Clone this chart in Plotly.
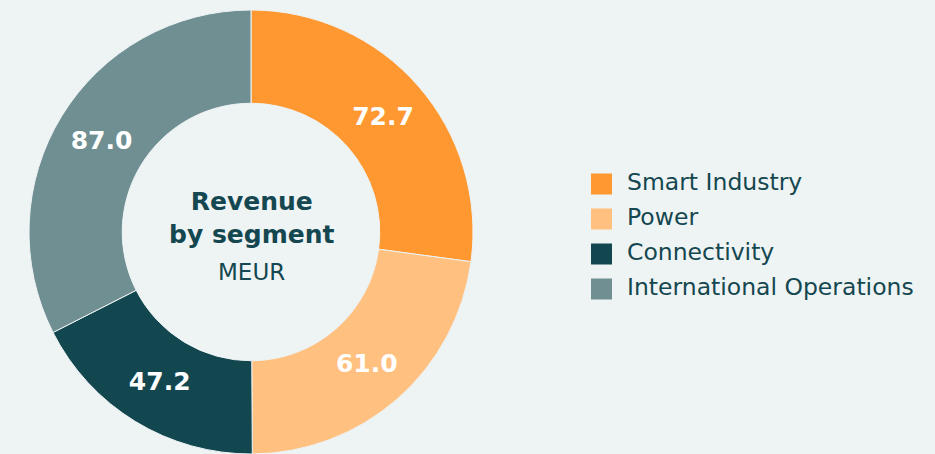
import plotly.graph_objects as go

# revenue by segment, MEUR
segments = ["Smart Industry", "Power", "Connectivity", "International Operations"]
revenue = [72.7, 61.0, 47.2, 87.0]
colors = ["#FF9830", "#FFC080", "#13474F", "#6F8F93"]

bg = "#EEF3F4"
ink = "#14474F"
font = "DejaVu Sans"

fig = go.Figure()

fig.add_trace(go.Pie(
    labels=segments,
    values=revenue,
    sort=False,
    direction="clockwise",
    rotation=0,
    hole=0.58,
    domain=dict(x=[29 / 935, 473 / 935], y=[0, 444 / 454]),
    marker=dict(colors=colors, line=dict(color=bg, width=1)),
    texttemplate="%{value:.1f}",
    textposition="inside",
    insidetextorientation="horizontal",
    textfont=dict(family=font, size=25, color="white", weight=700),
    showlegend=False,
    hoverinfo="label+value",
))

# custom legend: big squares + labels, laid out on a hidden pixel axis
rows = list(range(len(segments)))
row_y = [184 + 35 * i for i in rows]

fig.add_trace(go.Scatter(
    x=[601.5] * len(segments),
    y=row_y,
    mode="markers",
    marker=dict(symbol="square", size=21, color=colors),
    hoverinfo="skip",
    showlegend=False,
))
fig.add_trace(go.Scatter(
    x=[627] * len(segments),
    y=row_y,
    mode="text",
    text=segments,
    textposition="middle right",
    textfont=dict(family=font, size=23.5, color=ink),
    hoverinfo="skip",
    showlegend=False,
))

fig.add_annotation(
    x=251 / 935, y=1 - 218 / 454, xref="paper", yref="paper",
    xanchor="center", yanchor="middle",
    text="<b>Revenue<br>by segment</b>",
    showarrow=False, align="center",
    font=dict(family=font, size=25, color=ink),
)
fig.add_annotation(
    x=251 / 935, y=1 - 272 / 454, xref="paper", yref="paper",
    xanchor="center", yanchor="middle",
    text="MEUR",
    showarrow=False,
    font=dict(family=font, size=23, color=ink),
)

fig.update_layout(
    width=935,
    height=454,
    margin=dict(l=0, r=0, t=0, b=0),
    paper_bgcolor=bg,
    plot_bgcolor=bg,
    xaxis=dict(range=[0, 935], domain=[0, 1], visible=False, fixedrange=True),
    yaxis=dict(range=[454, 0], domain=[0, 1], visible=False, fixedrange=True),
)

fig.write_html("out.html", config={"displayModeBar": False},
               post_script="document.body.style.margin='0';")
